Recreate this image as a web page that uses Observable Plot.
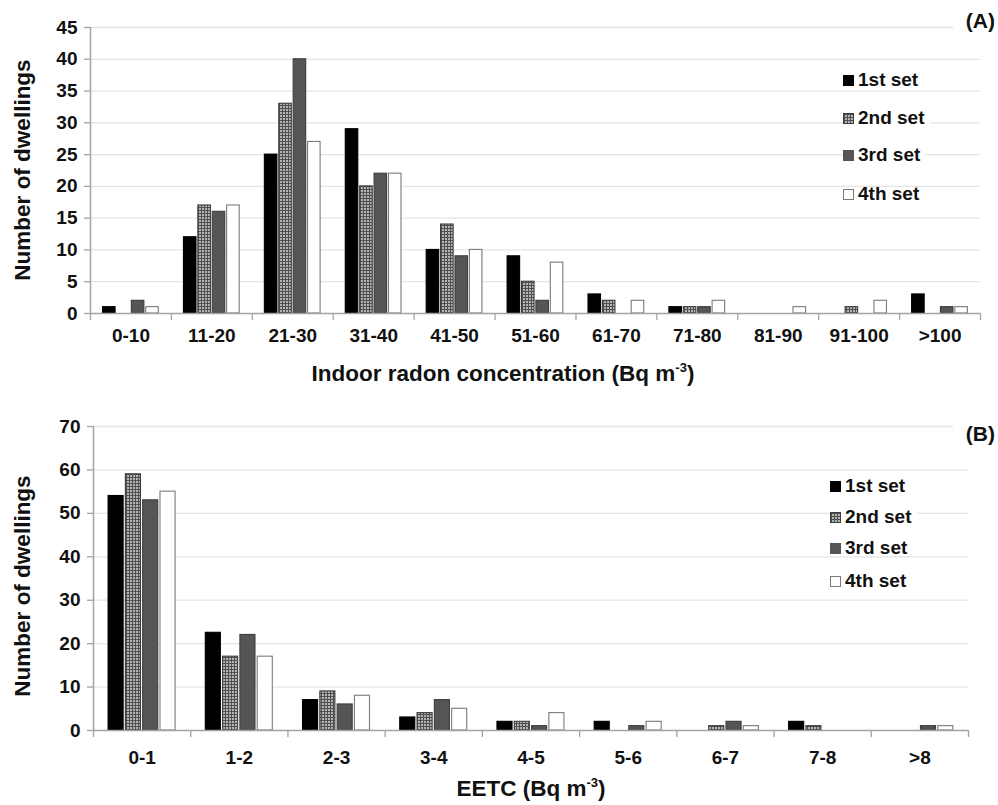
<!DOCTYPE html>
<html>
<head>
<meta charset="utf-8">
<script src="https://cdn.jsdelivr.net/npm/d3@7"></script>
<script src="https://cdn.jsdelivr.net/npm/@observablehq/plot@0.6"></script>
<style>
  body { margin: 0; background: #fff; font-family: "Liberation Sans", Arial, sans-serif; }
  #wrap { position: relative; width: 998px; height: 805px; overflow: hidden; background: #fff; }
  #wrap svg { position: absolute; left: 0; }
  .lbl { position: absolute; font-weight: bold; color: #111; white-space: nowrap; z-index: 2; }
  .ytitle { font-size: 22.5px; transform: translate(-50%, -50%) rotate(-90deg); }
  .xtitle { font-size: 22.5px; transform: translate(-50%, -50%); }
  .xtitle sup { font-size: 13px; vertical-align: 9px; line-height: 0; }
  .panel { font-size: 21px; background: #fff; text-align: right; padding-right: 3px; box-sizing: border-box; }
  .item { position: absolute; display: flex; align-items: center; background: #fff; font-weight: bold;
          font-size: 19px; line-height: 14px; height: 14px; color: #111; transform: translateY(-50%);
          padding-right: 5px; z-index: 2; white-space: nowrap; }
  .sw { width: 11px; height: 11px; box-sizing: border-box; margin-right: 4px; flex: none; }
</style>
</head>
<body>
<div id="wrap"></div>
<script>
// ---------- data ----------
const setNames = ["1st set", "2nd set", "3rd set", "4th set"];

const radonCategories = ["0-10", "11-20", "21-30", "31-40", "41-50", "51-60", "61-70", "71-80", "81-90", "91-100", ">100"];
const radonSet1 = [1, 12, 25, 29, 10, 9, 3, 1, 0, 0, 3];
const radonSet2 = [0, 17, 33, 20, 14, 5, 2, 1, 0, 1, 0];
const radonSet3 = [2, 16, 40, 22, 9, 2, 0, 1, 0, 0, 1];
const radonSet4 = [1, 17, 27, 22, 10, 8, 2, 2, 1, 2, 1];
const radonYTicks = [0, 5, 10, 15, 20, 25, 30, 35, 40, 45];

const eetcCategories = ["0-1", "1-2", "2-3", "3-4", "4-5", "5-6", "6-7", "7-8", ">8"];
const eetcSet1 = [54, 22.5, 7, 3, 2, 2, 0, 2, 0];
const eetcSet2 = [59, 17, 9, 4, 2, 0, 1, 1, 0];
const eetcSet3 = [53, 22, 6, 7, 1, 1, 2, 0, 1];
const eetcSet4 = [55, 17, 8, 5, 4, 2, 1, 0, 1];
const eetcYTicks = [0, 10, 20, 30, 40, 50, 60, 70];

// ---------- layout / style ----------
const groupStart = 0.155, barStep = 0.178, barWidth = 0.155;
const axisGrey = "#a3a3a3";
const gridGrey = "#e4e4e4";
function setStyles(patternId) {
  return [
    {fill: "#000", stroke: "#000"},
    {fill: `url(#${patternId})`, stroke: "#3c3c3c"},
    {fill: "#555", stroke: "#3d3d3d"},
    {fill: "#fff", stroke: "#7a7a7a"}
  ];
}

function buildRows(cats, series) {
  return cats.flatMap((c, i) => series.map((vals, j) => ({
    cat: c, set: setNames[j], j, value: vals[i],
    x1: i + groupStart + j * barStep,
    x2: i + groupStart + j * barStep + barWidth
  })));
}

const wrap = document.getElementById("wrap");

function addChart(o) {
  const data = buildRows(o.cats, o.series).filter(d => d.value > 0);
  const boundaries = d3.range(0, o.cats.length + 1);
  const centers = o.cats.map((c, i) => i + 0.5);
  const styles = setStyles(o.patternId);
  const svg = Plot.plot({
    width: 998, height: o.height,
    marginLeft: o.marginLeft, marginRight: o.marginRight,
    marginTop: o.marginTop, marginBottom: o.marginBottom,
    style: {fontFamily: "'Liberation Sans', Arial, sans-serif", fontSize: "19px", fontWeight: "bold", color: "#111", background: "transparent", overflow: "visible"},
    x: {domain: [0, o.cats.length], ticks: centers, tickFormat: d => o.cats[Math.floor(d)], tickSize: 0, tickPadding: o.xTickPadding, label: null},
    y: {domain: [0, o.yMax], ticks: o.yTicks, tickSize: 0, tickPadding: 13, label: null},
    marks: [
      Plot.ruleY(o.yTicks.filter(t => t > 0), {stroke: gridGrey, strokeWidth: 1.3}),
      ...styles.map((s, j) => Plot.rect(data.filter(d => d.j === j), {
        x1: "x1", x2: "x2", y1: 0, y2: "value", fill: s.fill, stroke: s.stroke, strokeWidth: 1.1
      })),
      Plot.ruleY(o.yTicks, {y: d => d, x1: 0, x2: 0, insetLeft: -6, stroke: axisGrey, strokeWidth: 1.3}),
      Plot.ruleY([0], {stroke: axisGrey, strokeWidth: 1.5}),
      Plot.ruleX([0], {stroke: axisGrey, strokeWidth: 1.5}),
      Plot.ruleX(boundaries, {x: d => d, y1: 0, y2: 0, insetBottom: -7, stroke: axisGrey, strokeWidth: 1.3})
    ]
  });
  // pattern for the 2nd set
  const defs = d3.select(svg).insert("defs", ":first-child");
  const pat = defs.append("pattern").attr("id", o.patternId)
    .attr("width", 3).attr("height", 3).attr("patternUnits", "userSpaceOnUse");
  pat.append("rect").attr("width", 3).attr("height", 3).attr("fill", "#505050");
  pat.append("rect").attr("x", 1).attr("y", 1).attr("width", 2).attr("height", 2).attr("fill", "#b4b4b4");
  svg.style.top = o.top + "px";
  wrap.appendChild(svg);

  // titles
  const yt = document.createElement("div");
  yt.className = "lbl ytitle"; yt.textContent = "Number of dwellings";
  yt.style.left = o.yTitle[0] + "px"; yt.style.top = o.yTitle[1] + "px";
  wrap.appendChild(yt);
  const xt = document.createElement("div");
  xt.className = "lbl xtitle"; xt.innerHTML = o.xTitleHtml;
  xt.style.left = o.xTitle[0] + "px"; xt.style.top = o.xTitle[1] + "px";
  wrap.appendChild(xt);
  const pl = document.createElement("div");
  pl.className = "lbl panel"; pl.textContent = o.panel;
  pl.style.left = o.panelBox[0] + "px"; pl.style.top = o.panelBox[1] + "px";
  pl.style.width = (998 - o.panelBox[0]) + "px"; pl.style.height = "26px"; pl.style.lineHeight = "26px";
  wrap.appendChild(pl);

  // legend
  const swatchCss = [
    "background:#000;",
    "background-color:#b4b4b4;background-image:linear-gradient(#505050 1px, transparent 1px),linear-gradient(90deg,#505050 1px, transparent 1px);background-size:3px 3px;border:1px solid #3c3c3c;",
    "background:#555;",
    "background:#fff;border:1.5px solid #7a7a7a;"
  ];
  setNames.forEach((name, j) => {
    const it = document.createElement("div");
    it.className = "item";
    it.style.left = o.legendX + "px";
    it.style.top = o.legendY[j] + "px";
    it.innerHTML = `<span class="sw" style="${swatchCss[j]}"></span><span>${name}</span>`;
    wrap.appendChild(it);
  });
}

addChart({
  patternId: "meshA", top: 0, height: 390,
  marginLeft: 90, marginRight: 18, marginTop: 27, marginBottom: 77,
  cats: radonCategories, series: [radonSet1, radonSet2, radonSet3, radonSet4],
  yTicks: radonYTicks, yMax: 45, xTickPadding: 15,
  yTitle: [23, 170], xTitle: [503, 374],
  xTitleHtml: "Indoor radon concentration (Bq m<sup>-3</sup>)",
  panel: "(A)", panelBox: [953, 8],
  legendX: 843, legendY: [80, 118, 155, 194]
});

addChart({
  patternId: "meshB", top: 390, height: 415,
  marginLeft: 93, marginRight: 30, marginTop: 36, marginBottom: 75,
  cats: eetcCategories, series: [eetcSet1, eetcSet2, eetcSet3, eetcSet4],
  yTicks: eetcYTicks, yMax: 70, xTickPadding: 20,
  yTitle: [23, 586], xTitle: [531, 789],
  xTitleHtml: "EETC (Bq m<sup>-3</sup>)",
  panel: "(B)", panelBox: [953, 421],
  legendX: 830, legendY: [486, 517, 548, 581]
});
</script>
</body>
</html>
